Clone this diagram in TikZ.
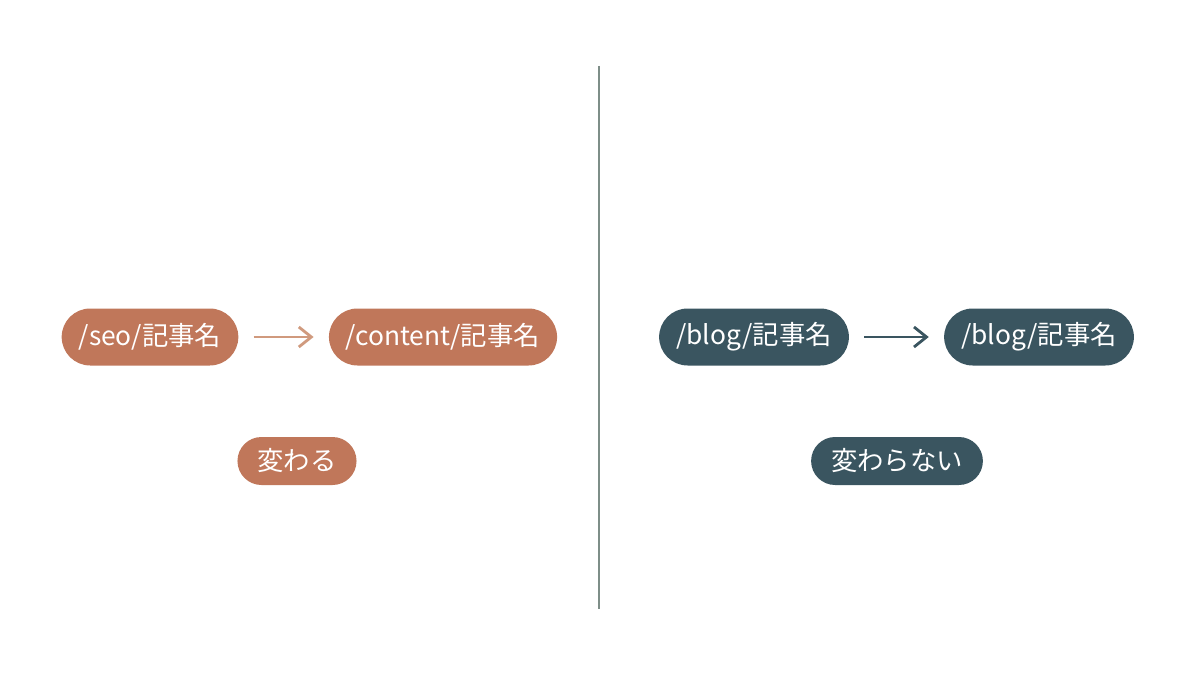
\documentclass[tikz,border=0pt]{standalone}
\usepackage{fontspec}
\setmainfont{Noto Sans CJK JP}
\usetikzlibrary{arrows.meta}
\definecolor{Rust}{HTML}{C0775A}
\definecolor{RustLight}{HTML}{D09A7E}
\definecolor{Slate}{HTML}{3A5560}
\definecolor{Divider}{HTML}{7E8E88}
\begin{document}
\begin{tikzpicture}
		\tikzstyle{pill}=[rounded corners=0.57cm, minimum height=1.14cm, inner xsep=0.34cm,
				      text=white, font=\fontsize{15}{18}\selectfont]
		\tikzstyle{tag}=[pill, rounded corners=0.48cm, minimum height=0.96cm, inner xsep=0.4cm]
		\tikzstyle{RustArr}=[-{Straight Barb[length=2.5mm,width=4mm]}, line width=1.6pt, color=RustLight, shorten <=0.3cm, shorten >=0.3cm]
		\tikzstyle{SlateArr}=[-{Straight Barb[length=2.5mm,width=4mm]}, line width=1.6pt, color=Slate, shorten <=0.3cm, shorten >=0.3cm]

\useasboundingbox (0,0) rectangle (24,13.5);

\node[pill,fill=Rust] at (3.0,6.76) (seo) {/seo/記事名};
\node[pill,fill=Rust] at (8.86,6.76) (content) {/content/記事名};
\node[tag,fill=Rust] at (5.94,4.28) (changes) {変わる};

\node[pill,fill=Slate] at (15.08,6.76) (blogold) {/blog/記事名};
\node[pill,fill=Slate] at (20.78,6.76) (blognew) {/blog/記事名};
\node[tag,fill=Slate] at (17.94,4.28) (stays) {変わらない};

\coordinate (divtop) at (11.98,12.18);
\coordinate (divbot) at (11.98,1.32);
\draw[Divider, line width=1pt] (divtop) -- (divbot);

\draw[RustArr] (seo) -- (content);
\draw[SlateArr] (blogold) -- (blognew);

\end{tikzpicture}
\end{document}
